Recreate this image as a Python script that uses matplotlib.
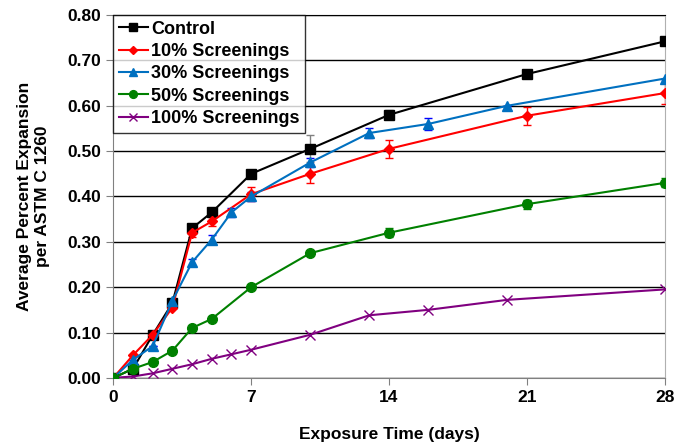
import matplotlib
matplotlib.use('Agg')
import matplotlib.pyplot as plt
from matplotlib.lines import Line2D

plt.rcParams['font.family'] = ['Liberation Sans', 'DejaVu Sans']
plt.rcParams['font.weight'] = 'bold'

days_a = [0, 1, 2, 3, 4, 5, 7, 10, 14, 21, 28]
days_b = [0, 1, 2, 3, 4, 5, 6, 7, 10, 13, 16, 20, 28]

control = [0.0, 0.02, 0.095, 0.165, 0.33, 0.365, 0.45, 0.505, 0.58, 0.67, 0.742]
control_err = [0, 0, 0, 0, 0, 0, 0.005, 0.03, 0.01, 0.005, 0.005]
s10 = [0.0, 0.05, 0.095, 0.155, 0.32, 0.345, 0.405, 0.45, 0.505, 0.578, 0.628]
s10_err = [0, 0, 0, 0, 0.01, 0.01, 0.015, 0.02, 0.02, 0.02, 0.025]
s30 = [0.0, 0.04, 0.07, 0.17, 0.255, 0.305, 0.365, 0.40, 0.475, 0.54, 0.56, 0.60, 0.66]
s30_err = [0, 0, 0, 0, 0.008, 0.01, 0.01, 0.01, 0.01, 0.01, 0.013, 0, 0]
s50 = [0.0, 0.02, 0.035, 0.06, 0.11, 0.13, 0.20, 0.275, 0.32, 0.383, 0.43]
s50_err = [0, 0, 0, 0, 0, 0, 0, 0, 0.01, 0.01, 0.01]
s100 = [0.0, 0.003, 0.01, 0.02, 0.03, 0.042, 0.052, 0.062, 0.095, 0.138, 0.15, 0.172, 0.195]

fig, ax = plt.subplots(figsize=(6.91, 4.44), dpi=100)
fig.subplots_adjust(left=0.164, right=0.962, top=0.966, bottom=0.149)

styles = [
    ('Control', days_a, control, control_err, 'black', 's', 7, 'gray'),
    ('10% Screenings', days_a, s10, s10_err, '#ff0000', 'D', 5, '#ff0000'),
    ('30% Screenings', days_b, s30, s30_err, '#0070c0', '^', 7, '#0000ff'),
    ('50% Screenings', days_a, s50, s50_err, '#008000', 'o', 7, '#008000'),
]
handles = []
for name, x, y, err, col, mk, ms, ecol in styles:
    ax.errorbar(x, y, yerr=err, color=col, marker=mk, ms=ms, lw=1.5,
                ecolor=ecol, elinewidth=1, capsize=3, zorder=3)
    handles.append(Line2D([], [], color=col, marker=mk, ms=ms * 0.8, lw=1.5, label=name))

ax.plot(days_b, s100, color='#800080', marker='x', ms=7, lw=1.5, zorder=3)
handles.append(Line2D([], [], color='#800080', marker='x', ms=6, lw=1.5,
                      label='100% Screenings'))

ax.set_xlim(0, 28)
ax.set_ylim(0, 0.8)
ax.set_xticks([0, 7, 14, 21, 28])
ax.set_yticks([i / 10 for i in range(9)])
ax.set_yticklabels(['%.2f' % (i / 10) for i in range(9)])
ax.tick_params(labelsize=12.5, direction='out', length=5, color='gray')
for lab in ax.get_xticklabels() + ax.get_yticklabels():
    lab.set_fontweight('bold')
ax.yaxis.grid(True, color='black', lw=1)
ax.set_axisbelow(True)
ax.spines['top'].set_color('black')
ax.spines['left'].set_color('gray')
ax.spines['bottom'].set_color('gray')
ax.spines['right'].set_color('#b0b0b0')

ax.set_xlabel('Exposure Time (days)', fontsize=12.5, fontweight='bold', labelpad=16)
ax.set_ylabel('Average Percent Expansion\nper ASTM C 1260', fontsize=12.5,
              fontweight='bold', labelpad=13)

leg = ax.legend(handles=handles, loc='upper left', fontsize=13, frameon=True,
                fancybox=False, edgecolor='black', borderaxespad=0,
                handlelength=1.6, handletextpad=0.2, labelspacing=0.3,
                borderpad=0.3)
leg.get_frame().set_linewidth(1)
for t in leg.get_texts():
    t.set_fontweight('bold')

fig.savefig('out.png', dpi=100)
